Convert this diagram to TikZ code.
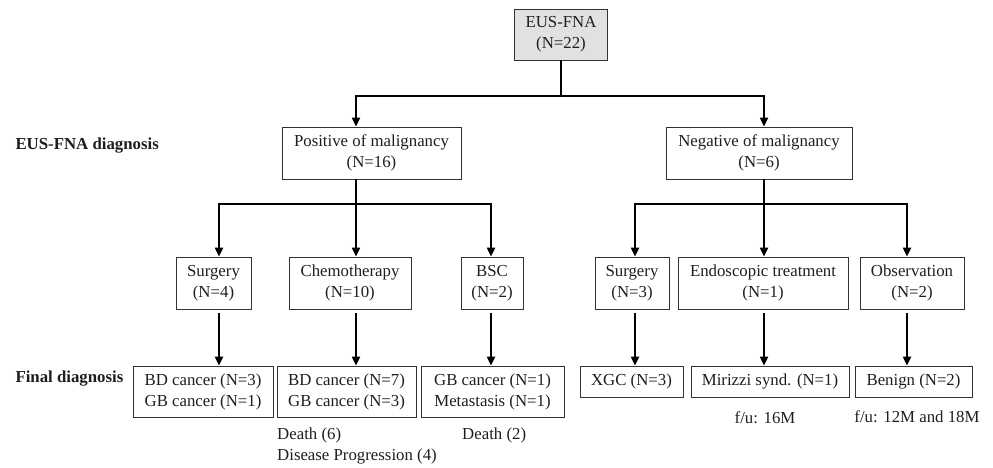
\documentclass[tikz,border=0pt]{standalone}
\usepackage{fontspec}
\setmainfont{Liberation Serif}
\usetikzlibrary{arrows.meta,positioning}
\definecolor{fcgray}{RGB}{225,225,225}
\definecolor{fcline}{RGB}{50,50,50}
\definecolor{fctext}{RGB}{30,30,30}

\begin{document}
\begin{tikzpicture}[x=1pt, y=-1pt, >={Triangle[length=9pt,width=8pt]},
  every node/.style={font=\fontsize{16.8}{21}\selectfont, text=fctext},
  box/.style={draw=fcline, line width=0.8pt, align=center, inner sep=0pt, minimum height=52pt},
  lowbox/.style={box, minimum height=51pt},
  onebox/.style={box, minimum height=31pt},
  link/.style={line width=2pt, black},
  arr/.style={link, ->}]
  \useasboundingbox (0,0) rectangle (993,467);
  % levels
  \node[fill=fcgray, box, minimum width=93pt, minimum height=51pt] (top) at (561,34.5) {EUS-FNA\\(N=22)};
  \node[box, minimum width=179pt] (pos) at (371.5,153) {Positive of malignancy\\(N=16)};
  \node[box, minimum width=186pt] (neg) at (759,153) {Negative of malignancy\\(N=6)};
  \node[box, minimum width=75pt]  (sur1) at (213.5,283) {Surgery\\(N=4)};
  \node[box, minimum width=122pt] (chemo) at (350,283) {Chemotherapy\\(N=10)};
  \node[box, minimum width=62pt]  (bsc) at (492,283) {BSC\\(N=2)};
  \node[box, minimum width=74pt]  (sur2) at (632,283) {Surgery\\(N=3)};
  \node[box, minimum width=170pt] (endo) at (763,283) {Endoscopic treatment\\(N=1)};
  \node[box, minimum width=104pt] (obs) at (912,283) {Observation\\(N=2)};
  \node[lowbox, minimum width=140pt] (fin1) at (203,391.5) {BD cancer (N=3)\\GB cancer (N=1)};
  \node[lowbox, minimum width=139pt] (fin2) at (346.5,391.5) {BD cancer (N=7)\\GB cancer (N=3)};
  \node[lowbox, minimum width=143pt] (fin3) at (492.5,391.5) {GB cancer (N=1)\\Metastasis (N=1)};
  \node[onebox, minimum width=103pt] (fin4) at (631.5,381.5) {XGC (N=3)};
  \node[onebox, minimum width=158pt] (fin5) at (770,381.5) {Mirizzi synd. (N=1)};
  \node[onebox, minimum width=117pt] (fin6) at (913.5,381.5) {Benign (N=2)};
  % row labels
  \node[anchor=west, font=\fontsize{16.8}{21}\selectfont\bfseries] (lbldiag) at (12,146) {EUS-FNA diagnosis};
  \node[anchor=west, font=\fontsize{16.8}{21}\selectfont\bfseries] (lblfinal) at (12,379) {Final diagnosis};
  % follow-up notes
  \node[anchor=west, align=left, inner sep=0pt] (note2) at (277,446) {Death (6)\\Disease Progression (4)};
  \node[anchor=west, inner sep=0pt] (note3) at (462,435) {Death (2)};
  \node[inner sep=0pt] (note5) at (765,418) {f/u: 16M};
  \node[inner sep=0pt] (note6) at (917,417) {f/u: 12M and 18M};
  % arrow columns and junctions
  \foreach \n/\x in {a/219, b/356, c/491, d/635, e/764, f/907}
    \coordinate (col\n) at (\x,0);
  \coordinate (j0) at (561,96);
  \coordinate (j1) at (356,204);
  \coordinate (j2) at (764,204);
  % connectors
  \draw[link] (top) -- (j0);
  \draw[arr] (j0) -| (pos.north -| colb);
  \draw[arr] (j0) -| (neg.north -| cole);
  \draw[link] (pos.south -| colb) -- (j1);
  \draw[link] (neg.south -| cole) -- (j2);
  \draw[arr] (j1) -| (sur1.north -| cola);
  \draw[arr] (j1) -- (chemo.north -| colb);
  \draw[arr] (j1) -| (bsc.north -| colc);
  \draw[arr] (j2) -| (sur2.north -| cold);
  \draw[arr] (j2) -- (endo.north -| cole);
  \draw[arr] (j2) -| (obs.north -| colf);
  \foreach \u/\v/\c in {sur1/fin1/a, chemo/fin2/b, bsc/fin3/c, sur2/fin4/d, endo/fin5/e, obs/fin6/f}
    \draw[arr] ([yshift=-4pt]\u.south -| col\c) -- (\v.north -| col\c);
\end{tikzpicture}
\end{document}
